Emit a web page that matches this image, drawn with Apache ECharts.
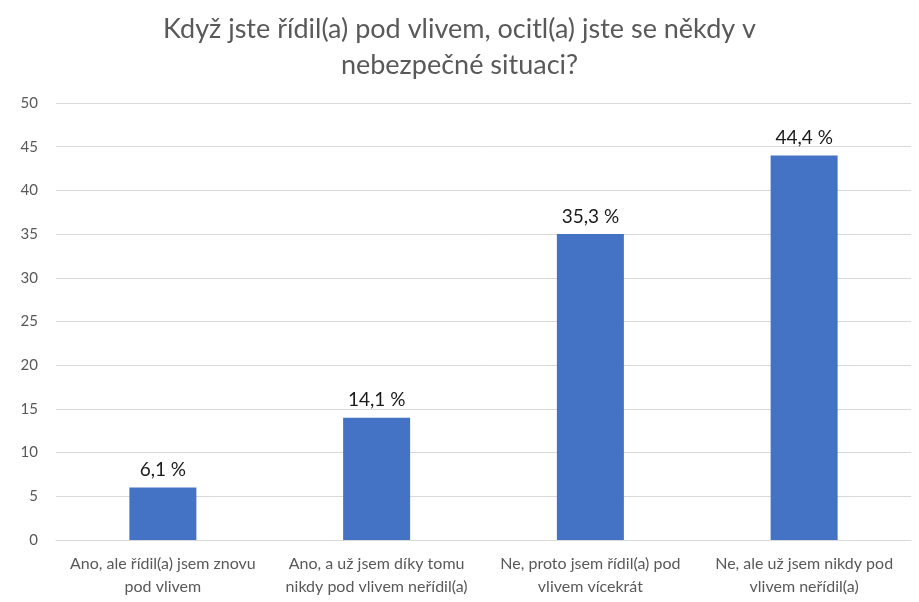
<!DOCTYPE html>
<html>
<head>
<meta charset="utf-8">
<script src="https://cdn.jsdelivr.net/npm/echarts@6/dist/echarts.min.js"></script>
<style>
  html, body { margin: 0; padding: 0; background: #fff; }
  #chart { width: 919px; height: 602px; }
</style>
</head>
<body>
<div id="chart"></div>
<script>
var titleText = "Když jste řídil(a) pod vlivem, ocitl(a) jste se někdy v\nnebezpečné situaci?";
var categories = [
  "Ano, ale řídil(a) jsem znovu\npod vlivem",
  "Ano, a už jsem díky tomu\nnikdy pod vlivem neřídil(a)",
  "Ne, proto jsem řídil(a) pod\nvlivem vícekrát",
  "Ne, ale už jsem nikdy pod\nvlivem neřídil(a)"
];
var values = [6, 14, 35, 44];
var valueLabels = ["6,1 %", "14,1 %", "35,3 %", "44,4 %"];

var chart = echarts.init(document.getElementById("chart"));
var font = "Lato, 'Open Sans', sans-serif";

chart.setOption({
  animation: false,
  title: {
    text: titleText,
    left: "center",
    top: 6,
    textStyle: {
      fontFamily: font,
      fontSize: 27,
      fontWeight: "normal",
      color: "#595959",
      lineHeight: 36
    }
  },
  grid: {
    left: 56,
    right: 8,
    top: 103,
    bottom: 62
  },
  xAxis: {
    type: "category",
    data: categories,
    axisLine: { lineStyle: { color: "#d9d9d9", width: 1 } },
    axisTick: { show: false },
    axisLabel: {
      interval: 0,
      fontFamily: font,
      fontSize: 16,
      color: "#595959",
      lineHeight: 23,
      margin: 12
    }
  },
  yAxis: {
    type: "value",
    min: 0,
    max: 50,
    interval: 5,
    axisLine: { show: false },
    axisTick: { show: false },
    splitLine: { lineStyle: { color: "#d9d9d9", width: 1 } },
    axisLabel: {
      fontFamily: font,
      fontSize: 15,
      color: "#595959",
      margin: 18
    }
  },
  series: [{
    type: "bar",
    data: values,
    barWidth: 67,
    itemStyle: { color: "#4472C4" },
    label: {
      show: true,
      position: "top",
      distance: 8,
      fontFamily: font,
      fontSize: 19,
      color: "#1a1a1a",
      formatter: function (p) {
        return valueLabels[p.dataIndex];
      }
    }
  }]
});
</script>
</body>
</html>
